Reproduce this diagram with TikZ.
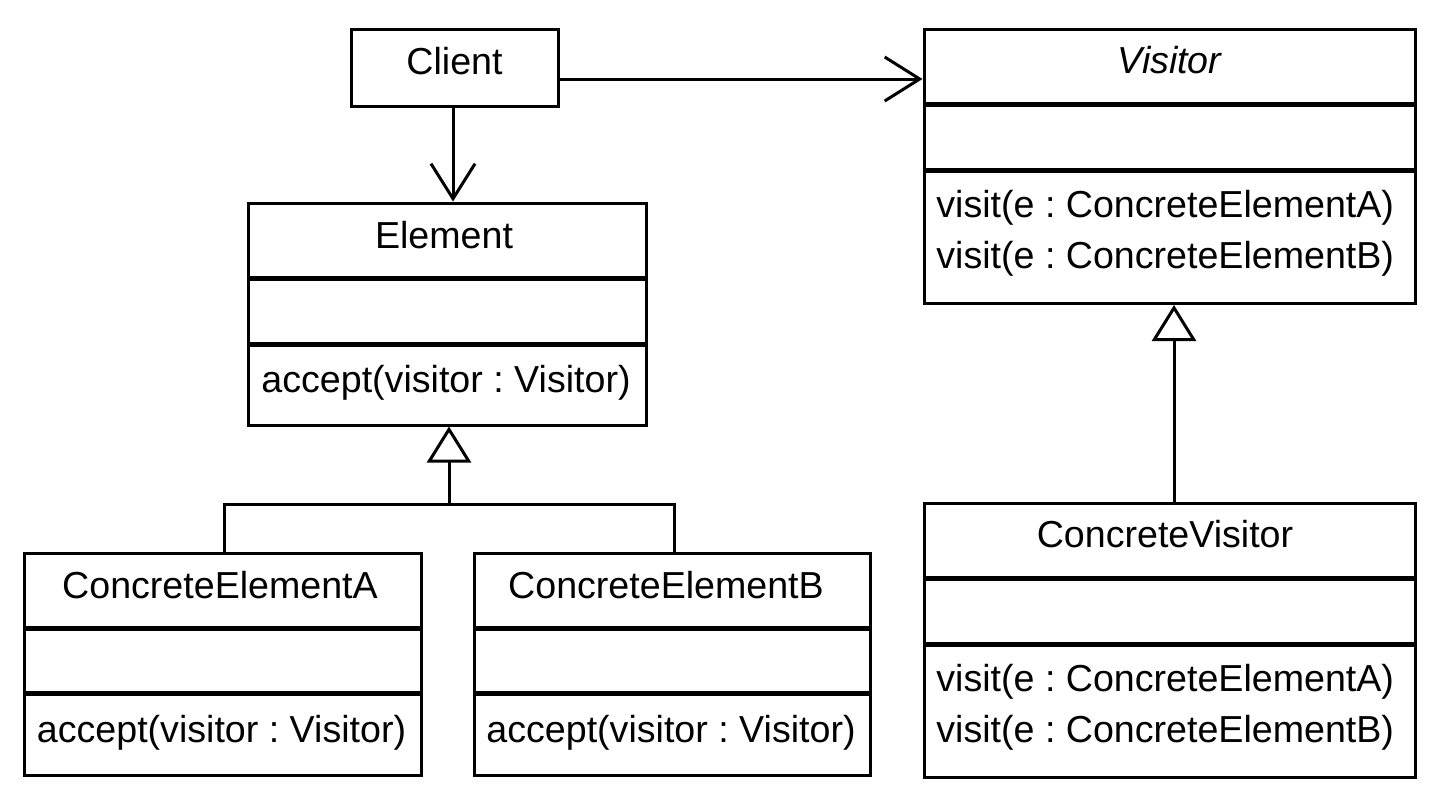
\documentclass[tikz,border=0pt]{standalone}
\usepackage{fontspec}
\setmainfont{Liberation Sans}
\usetikzlibrary{arrows.meta,calc}
\frenchspacing
\begin{document}
\begin{tikzpicture}[x=0.5pt,y=-0.5pt,
  box/.style={draw,line width=1.5pt,rectangle,inner sep=0pt,fill=white},
  sepline/.style={line width=2.5pt},
  txt/.style={inner sep=0pt,anchor=base,font=\fontsize{18.8}{22}\selectfont},
  ltxt/.style={inner sep=0pt,anchor=base west,font=\fontsize{18.8}{22}\selectfont},
  conn/.style={line width=1.5pt},
  assoc/.style={conn,-{Straight Barb[length=17.5pt,width=22pt]}},
  inh/.style={conn,-{Triangle[open,length=18pt,width=22pt,fill=white]}}]
\useasboundingbox (0,0) rectangle (1445,803);
\fill[white] (0,0) rectangle (1445,803);

% Client
\node[box,minimum width=103.5pt,minimum height=38.5pt] (client) at (454.5,67.5) {};
\node[txt] (clientname) at (454.5,74) {Client};

% Element
\node[box,minimum width=199pt,minimum height=111pt] (elem) at (447,314) {};
\draw[sepline] ($(elem.north west)+(0,77)$) -- ($(elem.north east)+(0,77)$);
\draw[sepline] ($(elem.north west)+(0,143)$) -- ($(elem.north east)+(0,143)$);
\node[txt] (elemname) at (444,248) {Element};
\node[txt] (elemop) at (446,392) {accept(visitor : Visitor)};

% ConcreteElementA
\node[box,minimum width=198.5pt,minimum height=111pt] (cea) at (222.5,664) {};
\draw[sepline] ($(cea.north west)+(0,77)$) -- ($(cea.north east)+(0,77)$);
\draw[sepline] ($(cea.north west)+(0,142)$) -- ($(cea.north east)+(0,142)$);
\node[txt] (ceaname) at (220,598) {ConcreteElementA};
\node[txt] (ceaop) at (221.5,742) {accept(visitor : Visitor)};

% ConcreteElementB
\node[box,minimum width=198pt,minimum height=111pt] (ceb) at (672,664) {};
\draw[sepline] ($(ceb.north west)+(0,77)$) -- ($(ceb.north east)+(0,77)$);
\draw[sepline] ($(ceb.north west)+(0,142)$) -- ($(ceb.north east)+(0,142)$);
\node[txt] (cebname) at (666,598) {ConcreteElementB};
\node[txt] (cebop) at (671,742) {accept(visitor : Visitor)};

% Visitor
\node[box,minimum width=245.5pt,minimum height=137pt] (visitor) at (1169.5,166.5) {};
\draw[sepline] ($(visitor.north west)+(0,76)$) -- ($(visitor.north east)+(0,76)$);
\draw[sepline] ($(visitor.north west)+(0,142)$) -- ($(visitor.north east)+(0,142)$);
\node[txt] (visitorname) at (1169.5,73) {\itshape Visitor};
\node[ltxt] (visitora) at (936,217) {visit(e : ConcreteElementA)};
\node[ltxt] (visitorb) at (936,268) {visit(e : ConcreteElementB)};

% ConcreteVisitor
\node[box,minimum width=245.5pt,minimum height=137pt] (cv) at (1169.5,640.5) {};
\draw[sepline] ($(cv.north west)+(0,76)$) -- ($(cv.north east)+(0,76)$);
\draw[sepline] ($(cv.north west)+(0,142)$) -- ($(cv.north east)+(0,142)$);
\node[txt] (cvname) at (1165,547) {ConcreteVisitor};
\node[ltxt] (cva) at (936,691) {visit(e : ConcreteElementA)};
\node[ltxt] (cvb) at (936,742) {visit(e : ConcreteElementB)};

% Associations
\coordinate (c1) at ($(client.south)+(-1.5,0)$);
\draw[assoc] (c1) -- (c1 |- elem.north);
\coordinate (c2) at ($(client.east)+(0,11.5)$);
\draw[assoc] (c2) -- (c2 -| visitor.west);

% Generalizations
\coordinate (j) at ($(elem.south)+(2,78)$);
\coordinate (ceatop) at ($(cea.north)+(1.5,0)$);
\coordinate (cebtop) at ($(ceb.north)+(2,0)$);
\draw[conn] (ceatop) |- (j) -| (cebtop);
\draw[inh] (j) -- (j |- elem.south);
\coordinate (v1) at ($(cv.north)+(4.5,0)$);
\draw[inh] (v1) -- (v1 |- visitor.south);
\end{tikzpicture}
\end{document}
